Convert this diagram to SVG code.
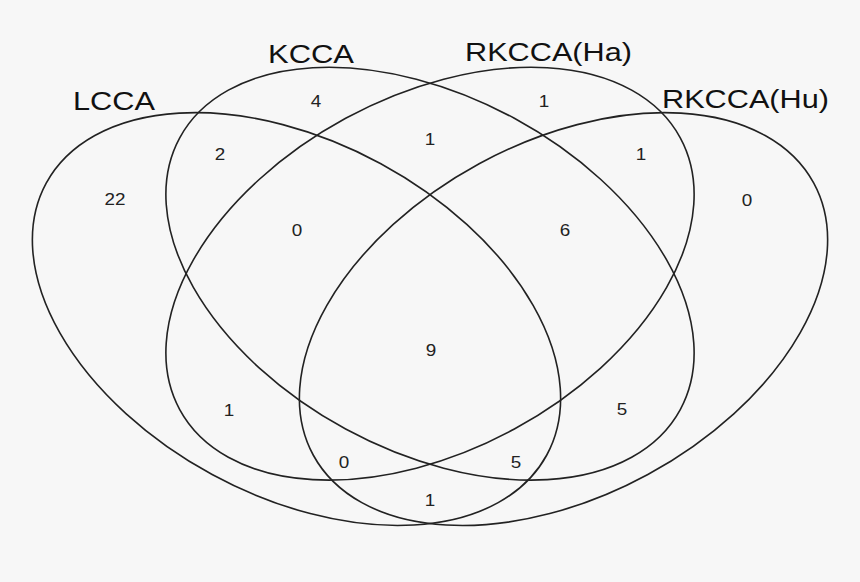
<svg xmlns="http://www.w3.org/2000/svg" width="860" height="582" viewBox="0 0 860 582">
<style>
.set{fill:none;stroke:#222;stroke-width:1.6}
.lab{font-family:"Liberation Sans",Arial,sans-serif;font-size:25px;fill:#111}
.num{font-family:"Liberation Sans",Arial,sans-serif;font-size:17px;fill:#222;text-anchor:middle}
</style>
<rect width="860" height="582" fill="#f7f7f7"/>
<g id="connectors"></g>
<g id="LCCA">
<ellipse class="set" cx="0" cy="0" rx="284.8" ry="176.8" transform="translate(296.5 319.1) rotate(28.5)"/>
<text class="lab" x="73" y="110" textLength="82" lengthAdjust="spacingAndGlyphs">LCCA</text>
</g>
<g id="KCCA">
<ellipse class="set" cx="0" cy="0" rx="284.8" ry="176.8" transform="translate(430 273.7) rotate(28.5)"/>
<text class="lab" x="268" y="63" textLength="86" lengthAdjust="spacingAndGlyphs">KCCA</text>
</g>
<g id="RKCCA_Ha">
<ellipse class="set" cx="0" cy="0" rx="284.8" ry="176.8" transform="translate(430 273.7) rotate(-28.5)"/>
<text class="lab" x="465" y="61" textLength="167" lengthAdjust="spacingAndGlyphs">RKCCA(Ha)</text>
</g>
<g id="RKCCA_Hu">
<ellipse class="set" cx="0" cy="0" rx="284.8" ry="176.8" transform="translate(563.5 319.1) rotate(-28.5)"/>
<text class="lab" x="662" y="108" textLength="167" lengthAdjust="spacingAndGlyphs">RKCCA(Hu)</text>
</g>
<g id="counts">
<text class="num" x="115" y="205" textLength="21" lengthAdjust="spacingAndGlyphs">22</text>
<text class="num" x="220" y="160" textLength="10.5" lengthAdjust="spacingAndGlyphs">2</text>
<text class="num" x="316" y="107" textLength="10.5" lengthAdjust="spacingAndGlyphs">4</text>
<text class="num" x="297" y="236" textLength="10.5" lengthAdjust="spacingAndGlyphs">0</text>
<text class="num" x="430" y="145" textLength="10.5" lengthAdjust="spacingAndGlyphs">1</text>
<text class="num" x="544" y="107" textLength="10.5" lengthAdjust="spacingAndGlyphs">1</text>
<text class="num" x="641" y="160" textLength="10.5" lengthAdjust="spacingAndGlyphs">1</text>
<text class="num" x="747" y="206" textLength="10.5" lengthAdjust="spacingAndGlyphs">0</text>
<text class="num" x="565" y="236" textLength="10.5" lengthAdjust="spacingAndGlyphs">6</text>
<text class="num" x="431" y="356" textLength="10.5" lengthAdjust="spacingAndGlyphs">9</text>
<text class="num" x="229" y="416" textLength="10.5" lengthAdjust="spacingAndGlyphs">1</text>
<text class="num" x="622" y="415" textLength="10.5" lengthAdjust="spacingAndGlyphs">5</text>
<text class="num" x="344" y="468" textLength="10.5" lengthAdjust="spacingAndGlyphs">0</text>
<text class="num" x="516" y="468" textLength="10.5" lengthAdjust="spacingAndGlyphs">5</text>
<text class="num" x="430" y="506" textLength="10.5" lengthAdjust="spacingAndGlyphs">1</text>
</g>
</svg>
